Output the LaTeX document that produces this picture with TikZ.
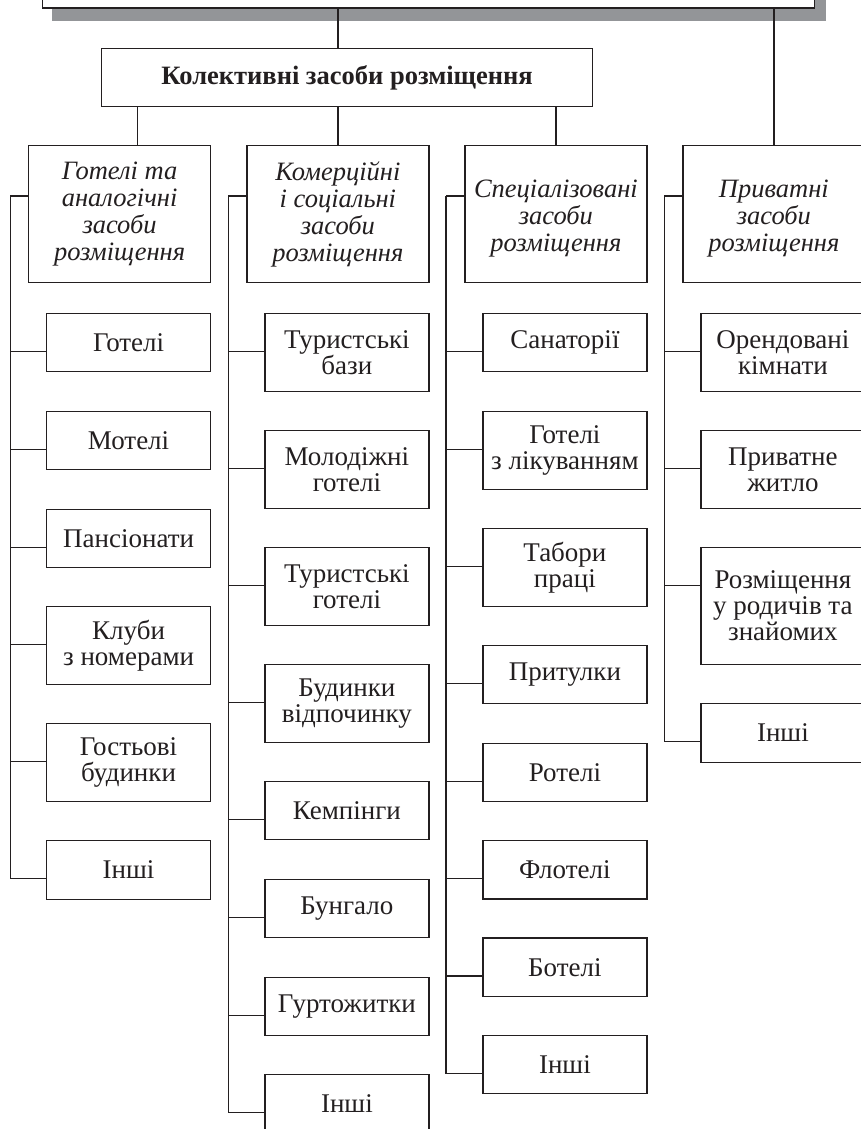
\documentclass[tikz,border=0pt]{standalone}
\usepackage{fontspec}
\setmainfont{Liberation Serif}
\usetikzlibrary{calc}
\definecolor{ink}{HTML}{231F20}
\definecolor{shadowgray}{HTML}{939598}
\tikzset{
  box/.style={draw=ink, line width=1.2pt, fill=white, anchor=north west, align=center, inner sep=0pt, text=ink, font=\fontsize{27}{26}\selectfont},
  head/.style={box, minimum width=182, minimum height=137, font=\fontsize{26.5}{27}\selectfont\itshape},
  child/.style={box, minimum width=164},
  conn/.style={draw=ink, line width=1.2pt},
}
\begin{document}
\begin{tikzpicture}[x=1pt, y=-1pt]
\useasboundingbox (0,0) rectangle (861,1129);
\clip (0,0) rectangle (861,1129);
% top box with shadow
\fill[shadowgray] (52,-100) rectangle (826,20.7);
\node[draw=ink, line width=1.2pt, fill=white, minimum width=772.3, minimum height=100, anchor=south west, inner sep=0pt] (top) at (41.7,8.7) {};
% collective
\node[box, minimum width=491, minimum height=58.3, font=\fontsize{26.5}{26}\selectfont\bfseries] (coll) at (101,47.7) {Колективні засоби розміщення};
% headers
\node[head] (h1) at (28,145) {Готелі та\\аналогічні\\засоби\\розміщення};
\node[head] (h2) at (246.3,145) {Комерційні\\і соціальні\\засоби\\розміщення};
\node[head] (h3) at (464.3,145) {\rule{0pt}{27pt}Спеціалізовані\\засоби\\розміщення};
\node[head] (h4) at (682.3,145) {\rule{0pt}{27pt}Приватні\\засоби\\розміщення};
% top-level connectors
\draw[conn] (top.south -| h2.north) -- (coll.north -| h2.north);
\draw[conn] (top.south -| h4.north) -- (h4.north);
\coordinate (k1) at (137.3,0);
\draw[conn] (coll.south -| k1) -- (h1.north -| k1);
\draw[conn] (coll.south -| h2.north) -- (h2.north);
\draw[conn] (coll.south -| h3.north) -- (h3.north);
% trunks
\coordinate (T1) at (10.3,0);
\coordinate (T2) at (228.3,0);
\coordinate (T3) at (446,0);
\coordinate (T4) at (664.3,0);
\foreach \k in {1,2,3,4}{
  \coordinate (bh\k) at ($(h\k.north west)+(0,51)$);
  \draw[conn] (T\k |- bh\k) -- (bh\k);
}
% column 1
\foreach \n/\t/\h/\txt in {a/313/58/{Готелі}, b/411/58/{Мотелі}, c/509/58/{Пансіонати}, d/606/78/{Клуби\\з номерами}, e/723/78/{Гостьові\\будинки}, f/839.5/59/{Інші}}{
  \node[child, minimum height=\h] (c1\n) at (46,\t) {\txt};
  \coordinate (b1\n) at ($(c1\n.north west)+(0,38.7)$);
  \draw[conn] (T1 |- b1\n) -- (b1\n);
}
\draw[conn] (T1 |- bh1) -- (T1 |- b1f);
% column 2
\foreach \n/\t/\h/\txt in {a/313/78/{Туристські\\бази}, b/430/78/{Молодіжні\\готелі}, c/547/78/{Туристські\\готелі}, d/664/78/{Будинки\\відпочинку}, e/781/58/{Кемпінги}, f/879/58/{Бунгало}, g/976.5/58/{Гуртожитки}, h/1074/58/{Інші}}{
  \node[child, minimum height=\h] (c2\n) at (264.3,\t) {\txt};
  \coordinate (b2\n) at ($(c2\n.north west)+(0,38.7)$);
  \draw[conn] (T2 |- b2\n) -- (b2\n);
}
\draw[conn] (T2 |- bh2) -- (T2 |- b2h);
% column 3
\foreach \n/\t/\h/\txt in {a/313/58/{Санаторії}, b/411/78/{Готелі\\з лікуванням}, c/528/78/{Табори\\праці}, d/645/58/{Притулки}, e/742.7/58/{Ротелі}, f/840/58.3/{Флотелі}, g/937.3/58.7/{Ботелі}, h/1035/58/{Інші}}{
  \node[child, minimum height=\h] (c3\n) at (482.3,\t) {\txt};
  \coordinate (b3\n) at ($(c3\n.north west)+(0,38.7)$);
  \draw[conn] (T3 |- b3\n) -- (b3\n);
}
\draw[conn] (T3 |- bh3) -- (T3 |- b3h);
% column 4
\foreach \n/\t/\h/\txt in {a/313/78/{Орендовані\\кімнати}, b/430/78/{Приватне\\житло}, c/547/117/{Розміщення\\у родичів та\\знайомих}, d/703/58.5/{Інші}}{
  \node[child, minimum height=\h] (c4\n) at (700.3,\t) {\txt};
  \coordinate (b4\n) at ($(c4\n.north west)+(0,38.7)$);
  \draw[conn] (T4 |- b4\n) -- (b4\n);
}
\draw[conn] (T4 |- bh4) -- (T4 |- b4d);
\end{tikzpicture}
\end{document}
